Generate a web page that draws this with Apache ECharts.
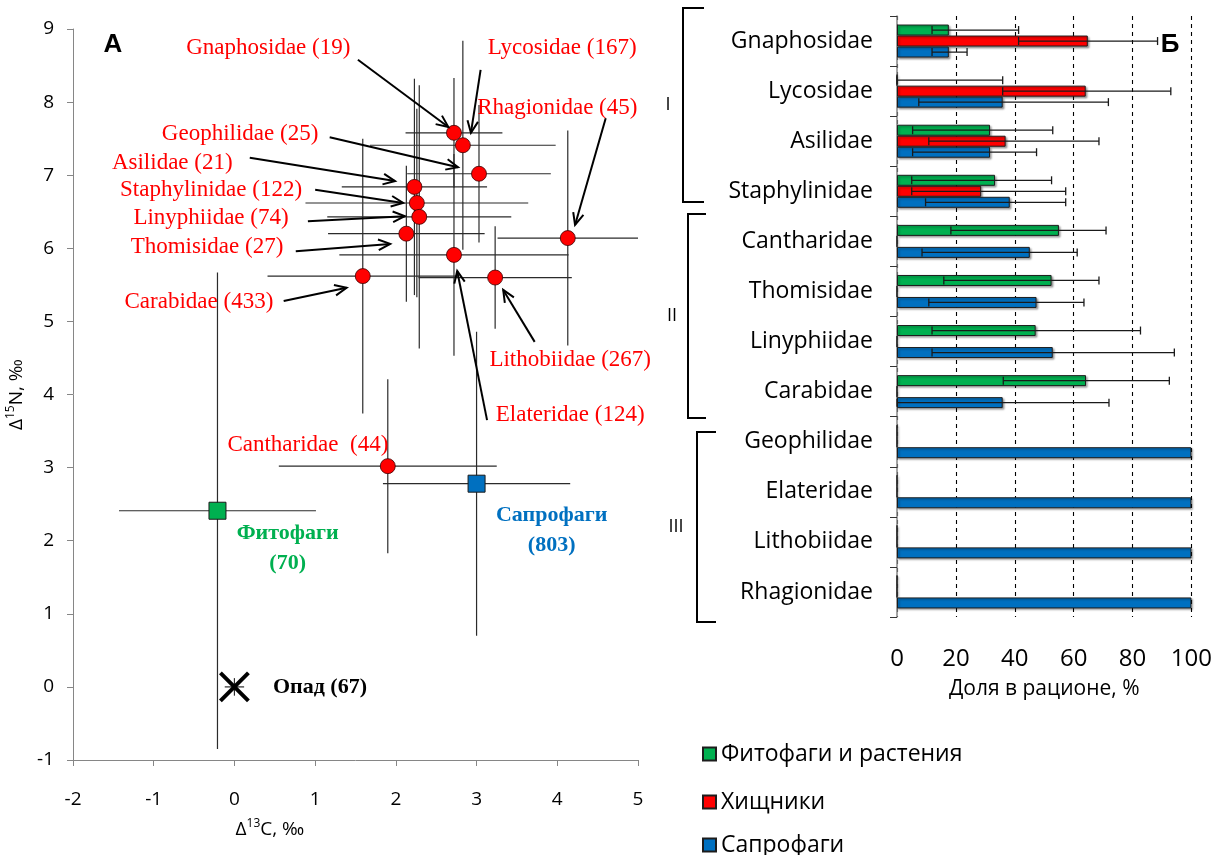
<!DOCTYPE html>
<html><head><meta charset="utf-8">
<script src="https://cdn.jsdelivr.net/npm/echarts@6/dist/echarts.min.js"></script>
<style>html,body{margin:0;padding:0;background:#fff;}#c{width:1215px;height:855px;}</style>
</head><body><div id="c"></div>
<script>
// ---------- Panel A: isotope bi-plot ----------
const taxa = ['Gnaphosidae','Lycosidae','Geophilidae','Asilidae','Staphylinidae','Linyphiidae','Thomisidae','Rhagionidae','Elateridae','Carabidae','Lithobiidae','Cantharidae'];
const counts = [19,167,25,21,122,74,27,45,124,433,267,44];
const d13C = [2.72,2.83,3.03,2.23,2.26,2.29,2.13,4.13,2.72,1.59,3.23,1.90];
const d15N = [7.58,7.41,7.02,6.84,6.62,6.43,6.20,6.14,5.91,5.62,5.60,3.02];
const sdC  = [0.60,1.15,0.89,0.90,1.38,1.14,0.97,0.87,1.42,1.18,0.95,1.35];
const sdN  = [0.75,1.43,0.94,1.48,1.29,1.80,0.93,1.47,1.38,1.88,0.70,1.19];

const groupNames  = ['Фитофаги','Сапрофаги','Опад'];
const groupCounts = [70,803,67];
const groupC   = [-0.21,3.00,0.00];
const groupN   = [2.41,2.78,0.00];
const groupSdC = [1.22,1.16,0.12];
const groupSdN = [3.26,2.08,0.12];

// ---------- Panel B: diet proportions ----------
const barCats = ['Gnaphosidae','Lycosidae','Asilidae','Staphylinidae','Cantharidae','Thomisidae','Linyphiidae','Carabidae','Geophilidae','Elateridae','Lithobiidae','Rhagionidae'];
const seriesNames = ['Фитофаги и растения','Хищники','Сапрофаги'];
const phyto   = [17.6,0,31.6,33.3,55.0,52.5,47.1,64.2,0,0,0,0];
const phytoLo = [11.9,0,5.3,5.0,18.3,15.9,11.9,36.1,0,0,0,0];
const phytoHi = [41.3,35.9,52.9,52.5,71.0,68.6,82.7,92.5,0,0,0,0];
const pred    = [64.8,64.1,36.9,28.6,0,0,0,0,0,0,0,0];
const predLo  = [41.3,35.9,10.8,5.0,0,0,0,0,0,0,0,0];
const predHi  = [88.5,93.0,68.6,57.3,0,0,0,0,0,0,0,0];
const sapro   = [17.6,35.9,31.6,38.3,45.1,47.4,52.9,35.9,100,100,100,100];
const saproLo = [11.9,7.4,5.3,9.7,8.5,10.8,11.9,0,100,100,100,100];
const saproHi = [23.8,71.8,47.4,57.3,61.2,63.5,94.2,72.0,100,100,100,100];
const xTicksB = [0,20,40,60,80,100];

const colors = ['#00B050','#FF0000','#0070C0'];
const SANS = '"Open Sans", "Noto Sans", sans-serif';
const SERIF = '"Liberation Serif", "DejaVu Serif", serif';

const chart = echarts.init(document.getElementById('c'), null, {renderer:'canvas'});

const errData = d13C.map((x,i)=>[x,d15N[i],sdC[i],sdN[i]]).concat(groupC.map((x,i)=>[x,groupN[i],groupSdC[i],groupSdN[i]]));

function errRender(params, api){
  const x=api.value(0), y=api.value(1), sx=api.value(2), sy=api.value(3);
  const l=api.coord([x-sx,y]), r=api.coord([x+sx,y]);
  const t=api.coord([x,y+sy]), b=api.coord([x,y-sy]);
  const st={stroke:'#2b2b2b',lineWidth:1.2};
  return {type:'group',children:[
    {type:'line',shape:{x1:l[0],y1:l[1],x2:r[0],y2:r[1]},style:st},
    {type:'line',shape:{x1:t[0],y1:t[1],x2:b[0],y2:b[1]},style:st}
  ]};
}

function barErrSeries(k, lo, hi){
  const off = [-11,0,11][k];
  return {
    type:'custom', xAxisIndex:1, yAxisIndex:1, silent:true, z:5,
    data: barCats.map((c,i)=>[i, lo[i], hi[i]]),
    encode:{y:0, x:[1,2]},
    renderItem(params, api){
      const cat=api.value(0), a=api.value(1), b=api.value(2);
      if (a===b) return null;
      const p1=api.coord([a,cat]), p2=api.coord([b,cat]);
      const y=p1[1]+off, st={stroke:'#1a1a1a',lineWidth:1.3};
      return {type:'group',children:[
        {type:'line',shape:{x1:p1[0],y1:y,x2:p2[0],y2:y},style:st},
        {type:'line',shape:{x1:p1[0],y1:y-4,x2:p1[0],y2:y+4},style:st},
        {type:'line',shape:{x1:p2[0],y1:y-4,x2:p2[0],y2:y+4},style:st}
      ]};
    }
  };
}

const barStyle = c => ({color:c, borderColor:'#1c1c1c', borderWidth:1, shadowBlur:2, shadowColor:'rgba(0,0,0,0.35)', shadowOffsetX:1.5, shadowOffsetY:1.5});
const supRich = {a:{fontSize:19,fontFamily:SANS,color:'#000',lineHeight:24},s:{fontSize:12,fontFamily:SANS,color:'#000',verticalAlign:'top',lineHeight:24}};
const legendRows = [734, 782, 825];

const option = {
  animation:false,
  backgroundColor:'#fff',
  grid:[
    {left:73, top:29, width:565, height:731},
    {left:897, top:16, width:296, height:601}
  ],
  xAxis:[
    {type:'value', gridIndex:0, min:-2, max:5, interval:1,
     axisLine:{onZero:false, lineStyle:{color:'#868686'}}, axisTick:{length:6, lineStyle:{color:'#868686'}},
     splitLine:{show:false},
     axisLabel:{color:'#000', fontSize:19, fontFamily:SANS, margin:30}
    },
    {type:'value', gridIndex:1, min:0, max:100, interval:20,
     axisLine:{onZero:false, lineStyle:{color:'#868686'}}, axisTick:{length:8, lineStyle:{color:'#555'}},
     splitLine:{show:true, lineStyle:{color:'#000', type:[4,4], width:1.1}},
     axisLabel:{color:'#000', fontSize:24, fontFamily:SANS, margin:30, formatter:v=>xTicksB.includes(v)?String(v):''},
     name:'Доля в рационе, %', nameLocation:'middle', nameGap:62,
     nameTextStyle:{fontSize:21, fontFamily:SANS, color:'#000'}
    }
  ],
  yAxis:[
    {type:'value', gridIndex:0, min:-1, max:9, interval:1,
     axisLine:{show:true, onZero:false, lineStyle:{color:'#868686'}}, axisTick:{show:true, length:6, lineStyle:{color:'#868686'}},
     splitLine:{show:false},
     axisLabel:{color:'#000', fontSize:19, fontFamily:SANS, margin:19},
     name:'{a|Δ}{s|15}{a|N, ‰}', nameLocation:'middle', nameGap:44, nameRotate:90,
     nameTextStyle:{fontSize:19, fontFamily:SANS, color:'#000', rich:supRich}
    },
    {type:'category', gridIndex:1, data:barCats, inverse:true,
     axisLine:{show:true, onZero:false, lineStyle:{color:'#868686', width:1.5}}, axisTick:{show:true, length:7, lineStyle:{color:'#333'}},
     axisLabel:{color:'#000', fontSize:23, fontFamily:SANS, margin:24},
     splitLine:{show:false}
    }
  ],
  legend: seriesNames.map((nm,i)=>({
    data:[nm], orient:'vertical', left:697, top:legendRows[i], itemWidth:13, itemHeight:13,
    icon:'rect', textStyle:{fontSize:23, fontFamily:SANS, color:'#000', lineHeight:30, padding:[0,0,0,0]}
  })),
  series:[
    {type:'custom', xAxisIndex:0, yAxisIndex:0, data:errData, encode:{x:0,y:1}, renderItem:errRender, silent:true, z:1},
    {type:'scatter', xAxisIndex:0, yAxisIndex:0, data:d13C.map((x,i)=>[x,d15N[i]]), symbol:'circle', symbolSize:15,
     itemStyle:{color:'#FF0000', borderColor:'#3a0000', borderWidth:0.8, opacity:1}, z:3},
    {type:'scatter', xAxisIndex:0, yAxisIndex:0, data:[[groupC[0],groupN[0]]], symbol:'rect', symbolSize:17,
     itemStyle:{color:'#00B050', borderColor:'#1a1a1a', borderWidth:1, opacity:1}, z:3},
    {type:'scatter', xAxisIndex:0, yAxisIndex:0, data:[[groupC[1],groupN[1]]], symbol:'rect', symbolSize:17,
     itemStyle:{color:'#0070C0', borderColor:'#1a1a1a', borderWidth:1, opacity:1}, z:3},
    {type:'custom', xAxisIndex:0, yAxisIndex:0, data:[[groupC[2],groupN[2]]], encode:{x:0,y:1}, z:3,
     renderItem(params, api){
       const p=api.coord([api.value(0),api.value(1)]), s=14, st={stroke:'#000',lineWidth:4};
       return {type:'group',children:[
         {type:'line',shape:{x1:p[0]-s,y1:p[1]-s,x2:p[0]+s,y2:p[1]+s},style:st},
         {type:'line',shape:{x1:p[0]-s,y1:p[1]+s,x2:p[0]+s,y2:p[1]-s},style:st}
       ]};
     }},
    {type:'bar', name:seriesNames[0], xAxisIndex:1, yAxisIndex:1, data:phyto, barWidth:11, barGap:'0%', itemStyle:barStyle(colors[0])},
    {type:'bar', name:seriesNames[1], xAxisIndex:1, yAxisIndex:1, data:pred, barWidth:11, barGap:'0%', itemStyle:barStyle(colors[1])},
    {type:'bar', name:seriesNames[2], xAxisIndex:1, yAxisIndex:1, data:sapro, barWidth:11, barGap:'0%', itemStyle:barStyle(colors[2])},
    barErrSeries(0, phytoLo, phytoHi),
    barErrSeries(1, predLo, predHi),
    barErrSeries(2, saproLo, saproHi)
  ]
};
chart.setOption(option);

// ---------- annotations (data coordinates of panel A) ----------
const notes = [
  {t:'Gnaphosidae (19)', at:[0.42,8.74], from:[1.53,8.58], to:[2.65,7.66]},
  {t:'Lycosidae (167)', at:[4.06,8.74], from:[3.05,8.44], to:[2.93,7.58]},
  {t:'Rhagionidae (45)', at:[4.00,7.92], from:[4.60,7.78], to:[4.22,6.32]},
  {t:'Geophilidae (25)', at:[0.07,7.56], from:[1.18,7.52], to:[2.77,7.11]},
  {t:'Asilidae (21)', at:[-0.77,7.17], from:[0.19,7.24], to:[1.99,6.92]},
  {t:'Staphylinidae (122)', at:[-0.29,6.80], from:[1.00,6.80], to:[2.09,6.62]},
  {t:'Linyphiidae (74)', at:[-0.29,6.42], from:[0.91,6.37], to:[2.11,6.44]},
  {t:'Thomisidae (27)', at:[-0.34,6.02], from:[0.76,5.96], to:[1.93,6.06]},
  {t:'Carabidae (433)', at:[-0.44,5.27], from:[0.61,5.28], to:[1.39,5.46]},
  {t:'Lithobiidae (267)', at:[4.16,4.47], from:[3.72,4.72], to:[3.33,5.43]},
  {t:'Elateridae (124)', at:[4.16,3.72], from:[3.13,3.65], to:[2.76,5.69]},
  {t:'Cantharidae  (44)', at:[0.91,3.31]}
];
const groupLabels = [
  {t:'Фитофаги\n(70)', at:[0.66,1.90], color:'#00B050'},
  {t:'Сапрофаги\n(803)', at:[3.93,2.14], color:'#0070C0'},
  {t:'Опад (67)', at:[1.06,0.0], color:'#000'}
];
const px = p => chart.convertToPixel({gridIndex:0}, p);
const g = [];
notes.forEach(n=>{
  const a = px(n.at);
  g.push({type:'text', x:a[0], y:a[1], z:50, style:{text:n.t, fill:'#FF0000', fontSize:23, fontFamily:SERIF, textAlign:'center', textVerticalAlign:'middle'}});
  if (n.from){
    const p1=px(n.from), p2=px(n.to);
    const ang=Math.atan2(p2[1]-p1[1], p2[0]-p1[0]), L=13, w=0.42;
    g.push({type:'line', z:50, shape:{x1:p1[0],y1:p1[1],x2:p2[0],y2:p2[1]}, style:{stroke:'#000',lineWidth:2}});
    g.push({type:'polyline', z:50, shape:{points:[[p2[0]-L*Math.cos(ang-w),p2[1]-L*Math.sin(ang-w)],p2,[p2[0]-L*Math.cos(ang+w),p2[1]-L*Math.sin(ang+w)]]}, style:{stroke:'#000',lineWidth:2,fill:null}});
  }
});
groupLabels.forEach(n=>{
  const a = px(n.at);
  g.push({type:'text', x:a[0], y:a[1], z:50, style:{text:n.t, fill:n.color, fontSize:22, fontWeight:'bold', fontFamily:SERIF, textAlign:'center', textVerticalAlign:'middle', lineHeight:30}});
});
// x-axis title of panel A (placed left of the axis centre, as in the original)
const xt = px([0.44,-1]);
g.push({type:'text', x:xt[0], y:xt[1]+70, style:{text:'{a|Δ}{s|13}{a|C, ‰}', rich:supRich, textAlign:'center', textVerticalAlign:'middle'}});
// panel letters
g.push({type:'text', x:113, y:45, style:{text:'А', fill:'#000', fontSize:26, fontWeight:'bold', fontFamily:'"Liberation Sans", Arial, sans-serif', textAlign:'center', textVerticalAlign:'middle'}});
g.push({type:'text', x:1170, y:45, style:{text:'Б', fill:'#000', fontSize:26, fontWeight:'bold', fontFamily:'"Liberation Sans", Arial, sans-serif', textAlign:'center', textVerticalAlign:'middle'}});
// group brackets of panel B
const brackets = [
  {lab:'I', x:683, arm:21, y1:8, y2:202, lx:668},
  {lab:'II', x:688, arm:18, y1:214, y2:418, lx:672},
  {lab:'III', x:697, arm:19, y1:432, y2:622, lx:676}
];
brackets.forEach(b=>{
  g.push({type:'polyline', shape:{points:[[b.x+b.arm,b.y1],[b.x,b.y1],[b.x,b.y2],[b.x+b.arm,b.y2]]}, style:{stroke:'#000',lineWidth:2,fill:null}});
  g.push({type:'text', x:b.lx, y:(b.y1+b.y2)/2, style:{text:b.lab, fill:'#000', fontSize:18, fontFamily:SANS, textAlign:'center', textVerticalAlign:'middle'}});
});
chart.setOption({graphic:g});
</script></body></html>
